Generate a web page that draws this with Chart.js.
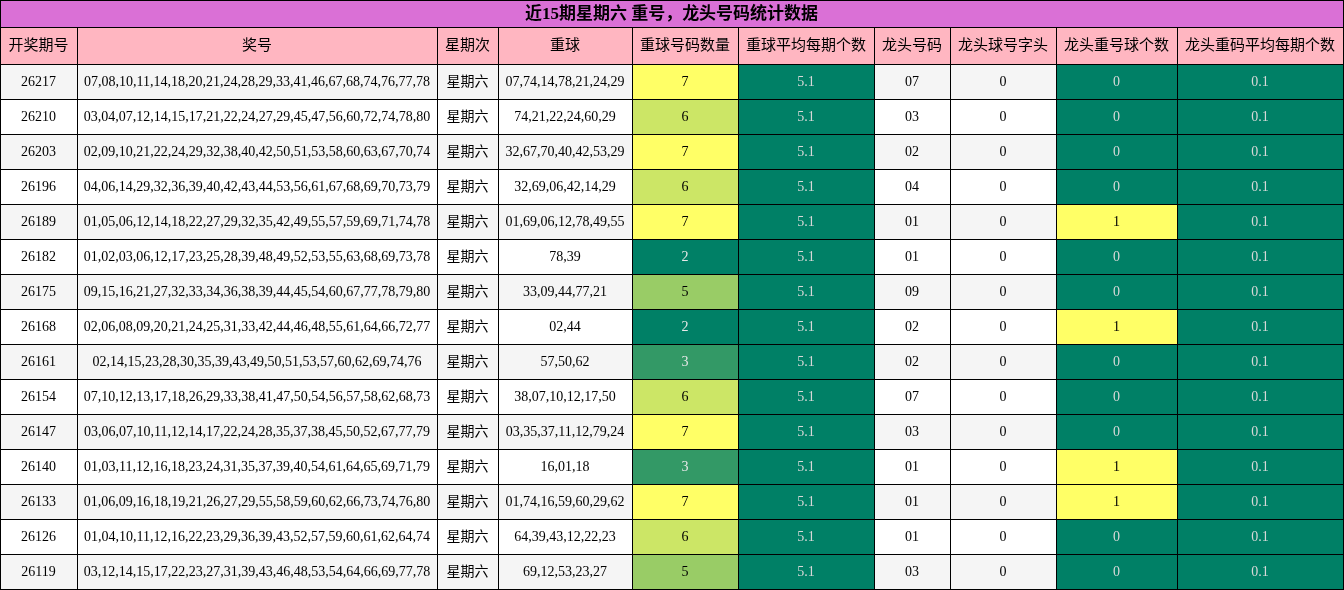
<!DOCTYPE html>
<html><head><meta charset="utf-8">
<script src="https://cdn.jsdelivr.net/npm/chart.js@4"></script>
<style>html,body{margin:0;padding:0;background:#fff}#wrap{width:1344px;height:590px}</style>
</head><body><div id="wrap"><canvas id="tabela"></canvas></div>
<script>
// Dados da tabela
const titulo = '近15期星期六 重号，龙头号码统计数据';
const cabecalhos = ['开奖期号','奖号','星期次','重球','重球号码数量','重球平均每期个数','龙头号码','龙头球号字头','龙头重号球个数','龙头重码平均每期个数'];
const periodos = ['26217','26210','26203','26196','26189','26182','26175','26168','26161','26154','26147','26140','26133','26126','26119'];
const numeros = [
  '07,08,10,11,14,18,20,21,24,28,29,33,41,46,67,68,74,76,77,78',
  '03,04,07,12,14,15,17,21,22,24,27,29,45,47,56,60,72,74,78,80',
  '02,09,10,21,22,24,29,32,38,40,42,50,51,53,58,60,63,67,70,74',
  '04,06,14,29,32,36,39,40,42,43,44,53,56,61,67,68,69,70,73,79',
  '01,05,06,12,14,18,22,27,29,32,35,42,49,55,57,59,69,71,74,78',
  '01,02,03,06,12,17,23,25,28,39,48,49,52,53,55,63,68,69,73,78',
  '09,15,16,21,27,32,33,34,36,38,39,44,45,54,60,67,77,78,79,80',
  '02,06,08,09,20,21,24,25,31,33,42,44,46,48,55,61,64,66,72,77',
  '02,14,15,23,28,30,35,39,43,49,50,51,53,57,60,62,69,74,76',
  '07,10,12,13,17,18,26,29,33,38,41,47,50,54,56,57,58,62,68,73',
  '03,06,07,10,11,12,14,17,22,24,28,35,37,38,45,50,52,67,77,79',
  '01,03,11,12,16,18,23,24,31,35,37,39,40,54,61,64,65,69,71,79',
  '01,06,09,16,18,19,21,26,27,29,55,58,59,60,62,66,73,74,76,80',
  '01,04,10,11,12,16,22,23,29,36,39,43,52,57,59,60,61,62,64,74',
  '03,12,14,15,17,22,23,27,31,39,43,46,48,53,54,64,66,69,77,78'
];
const repetidos = ['07,74,14,78,21,24,29','74,21,22,24,60,29','32,67,70,40,42,53,29','32,69,06,42,14,29','01,69,06,12,78,49,55','78,39','33,09,44,77,21','02,44','57,50,62','38,07,10,12,17,50','03,35,37,11,12,79,24','16,01,18','01,74,16,59,60,29,62','64,39,43,12,22,23','69,12,53,23,27'];
const qtdRepetidos = [7,6,7,6,7,2,5,2,3,6,7,3,7,6,5];
const mediaRepetidos = 5.1;
const cabeca = ['07','03','02','04','01','01','09','02','02','07','03','01','01','01','03'];
const cabecaDigito = [0,0,0,0,0,0,0,0,0,0,0,0,0,0,0];
const cabecaRepetida = [0,0,0,0,1,0,0,1,0,0,0,1,1,0,0];
const mediaCabeca = 0.1;

// Bordas das colunas e linhas (em unidades da escala)
const bordasColunas = [0,77,437,498,632,738,874,950,1056,1177,1343];
const alturaTitulo = 27, alturaCabecalho = 37, alturaLinha = 35;

const TEAL = '#008066';
const corQtd = {7:'#FFFF66',6:'#CCE666',5:'#99CC66',3:'#339966',2:TEAL};
const fonte = "'Liberation Serif','Noto Sans CJK SC',serif";

const desenhaTabela = {
  id: 'desenhaTabela',
  afterDatasetsDraw(chart) {
    const c = chart.ctx, sx = chart.scales.x, sy = chart.scales.y;
    function celula(x0, x1, y0, y1, fundo, texto, cor, negrito, tam) {
      const px0 = sx.getPixelForValue(x0), px1 = sx.getPixelForValue(x1);
      const py0 = sy.getPixelForValue(y0), py1 = sy.getPixelForValue(y1);
      c.fillStyle = fundo;
      c.fillRect(px0, py0, px1 - px0, py1 - py0);
      c.strokeStyle = '#000'; c.lineWidth = 1;
      c.strokeRect(Math.round(px0) + 0.5, Math.round(py0) + 0.5, px1 - px0, py1 - py0);
      c.fillStyle = cor;
      c.font = (negrito ? 'bold ' : '') + (tam || 14) + 'px ' + fonte;
      c.textAlign = 'center'; c.textBaseline = 'middle';
      c.fillText(texto, (px0 + px1) / 2, (py0 + py1) / 2 + 1);
    }
    c.save();
    celula(0, 1343, 0, alturaTitulo, '#DA70D6', titulo, '#000', true, 17);
    cabecalhos.forEach((h, j) => celula(bordasColunas[j], bordasColunas[j+1], alturaTitulo, alturaTitulo + alturaCabecalho, '#FFB6C1', h, '#000', false, 15));
    periodos.forEach((p, i) => {
      const y0 = alturaTitulo + alturaCabecalho + i * alturaLinha, y1 = y0 + alturaLinha;
      const fundo = i % 2 === 0 ? '#F5F5F5' : '#FFFFFF';
      const q = qtdRepetidos[i], r = cabecaRepetida[i];
      const vals = [
        [p, fundo, '#000'], [numeros[i], fundo, '#000'], ['星期六', fundo, '#000'], [repetidos[i], fundo, '#000'],
        [String(q), corQtd[q], q <= 3 ? '#E8E8E8' : '#000'],
        [mediaRepetidos.toFixed(1), TEAL, '#D8D8D8'],
        [cabeca[i], fundo, '#000'], [String(cabecaDigito[i]), fundo, '#000'],
        [String(r), r ? '#FFFF66' : TEAL, r ? '#000' : '#D8D8D8'],
        [mediaCabeca.toFixed(1), TEAL, '#D8D8D8']
      ];
      vals.forEach((v, j) => celula(bordasColunas[j], bordasColunas[j+1], y0, y1, v[1], v[0], v[2], false, 14));
    });
    c.restore();
  }
};

new Chart(document.getElementById('tabela'), {
  type: 'scatter',
  data: { datasets: [{ data: [] }] },
  options: {
    responsive: true, maintainAspectRatio: false, animation: false,
    layout: { padding: 0 },
    plugins: { legend: { display: false }, tooltip: { enabled: false } },
    scales: {
      x: { type: 'linear', min: 0, max: 1344, display: false },
      y: { type: 'linear', min: 0, max: 590, reverse: true, display: false }
    }
  },
  plugins: [desenhaTabela]
});
</script></body></html>
